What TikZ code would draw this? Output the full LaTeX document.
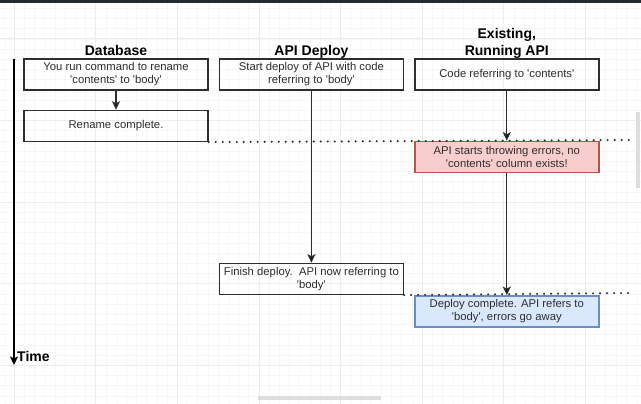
\documentclass[tikz,border=0pt]{standalone}
\usepackage{fontspec}
\setmainfont{Liberation Sans}
\usetikzlibrary{arrows.meta,positioning}

\definecolor{errfill}{HTML}{F8CECC}
\definecolor{errline}{HTML}{B85450}
\definecolor{okfill}{HTML}{DAE8FC}
\definecolor{okline}{HTML}{6C8EBF}
\definecolor{ink}{HTML}{2E2E2E}
\definecolor{topbar}{HTML}{262A31}
\newcommand{\sq}{\textquotesingle}

\begin{document}
\begin{tikzpicture}[x=1pt,y=-1pt,>={Stealth[length=8.5pt,width=8pt,inset=2pt]},
  stepbox/.style={rectangle,draw=ink,line width=1.4pt,minimum width=184pt,
    minimum height=31pt,align=center,inner sep=2pt,text=ink,
    font=\fontsize{11.3}{13}\selectfont},
  errbox/.style={stepbox,fill=errfill,draw=errline},
  okbox/.style={stepbox,fill=okfill,draw=okline},
  head/.style={font=\fontsize{14}{16.5}\selectfont\bfseries,align=center,
    inner sep=0pt,text depth=3pt},
  flow/.style={->,draw=ink,line width=1.3pt},
  sync/.style={draw=ink,line width=2.3pt,dash pattern=on 0pt off 7pt,line cap=round},
  gridminor/.style={draw=black!3,line width=0.5pt},
  gridmajor/.style={draw=black!7,line width=0.6pt}]
    \useasboundingbox[fill=white] (0,0) rectangle (641,404);
    % background grid
    \foreach \i in {-1,...,62} \draw[gridminor] ({14.1+10.2*\i},0) -- ++(0,404);
    \foreach \i in {0,...,40} \draw[gridminor] (0,{-2+10.2*\i}) -- ++(641,0);
    \foreach \i in {0,...,7} \draw[gridmajor] ({14.1+81.6*\i},0) -- ++(0,404);
    \foreach \i in {0,...,4} \draw[gridmajor] (0,{38.8+81.6*\i}) -- ++(641,0);
    \fill[topbar] (0,0) rectangle (641,3);
    \fill[black!13] (636,112) rectangle (640,188);
    \fill[black!13] (258,396) rectangle (381,400);

    \node[stepbox] (dbrun) at (116,74.5) {You run command to rename\\\sq contents\sq{} to \sq body\sq};
    \node[stepbox,below=19pt of dbrun] (dbdone) {Rename complete.};
    \node[stepbox,right=10pt of dbrun] (apstart) {Start deploy of API with code\\referring to \sq body\sq};
    \node[stepbox,right=10pt of apstart] (excode) {Code referring to \sq contents\sq};
    \node[errbox,below=50pt of excode] (exerr) {API starts throwing errors, no\\\sq contents\sq{} column exists!};
    \node[stepbox,below=172pt of apstart] (apdone) {Finish deploy.\ \ API now referring to\\\sq body\sq};
    \node[okbox,below=122pt of exerr] (exok) {Deploy complete. API refers to\\\sq body\sq, errors go away};

    \node[head,above=0pt of dbrun] (dbhead) {Database};
    \node[head,above=0pt of apstart] (aphead) {API Deploy};
    \node[head,above=0pt of excode] (exhead) {Existing,\\Running API};

    \path[flow] (dbrun) edge (dbdone)
                (apstart) edge (apdone)
                (excode) edge (exerr)
                (exerr) edge (exok);

    % time axis
    \coordinate (tstart) at (14,59);
    \coordinate (tend) at (14,365);
    \draw[flow,draw=black] (tstart) -- (tend);
    \node[head,anchor=base west,text depth=0pt] (time) at (17,361) {Time};

    % sync points
    \coordinate (syncA) at (630,140);
    \coordinate (syncB) at (630,293);
    \draw[sync] (dbdone.south east) -- (syncA);
    \draw[sync] (apdone.south east) -- (syncB);
\end{tikzpicture}
\end{document}
